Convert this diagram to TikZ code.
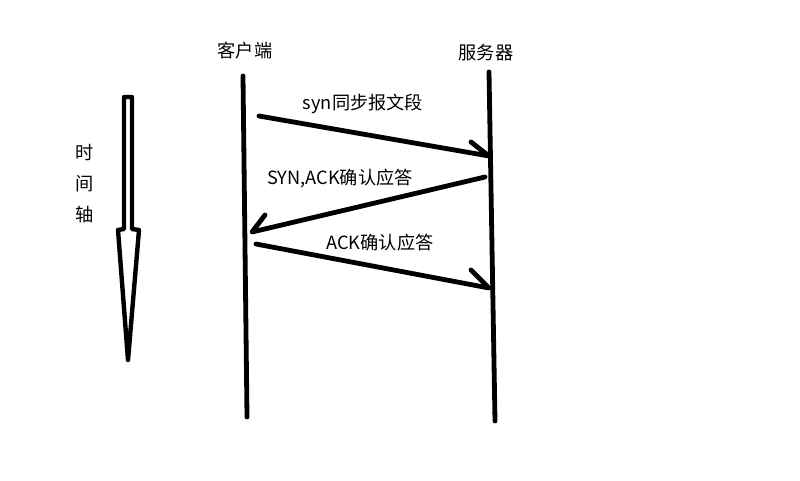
\documentclass[tikz,border=0pt]{standalone}
\usepackage{fontspec}
\newfontfamily\cjk{Noto Sans CJK SC}
\begin{document}
\begin{tikzpicture}[x=1pt,y=-1pt,
  lifeline/.style={line width=4.8pt,line cap=round},
  msg/.style={line width=4.8pt,line cap=round,line join=round},
  lbl/.style={font=\cjk\fontsize{18.2}{20}\selectfont,inner sep=0pt,anchor=center},
  timeaxis/.style={line width=4.4pt,line join=round,line cap=round}]
\useasboundingbox (0,0) rectangle (800,480);
% lifelines
\coordinate (c1) at (243,76);
\coordinate (c2) at (247,417);
\coordinate (s1) at (489,72);
\coordinate (s2) at (495,421);
\draw[lifeline] (c1) -- (c2);
\draw[lifeline] (s1) -- (s2);
\node[lbl] (client) at (245,51) {客户端};
\node[lbl] (server) at (486,53) {服务器};
% message 1
\coordinate (a1s) at (259,116);
\coordinate (a1t) at (489,156);
\coordinate (a1b) at (471,142);
\draw[msg] (a1s) -- (a1t) -- (a1b);
\node[lbl] (m1) at (363,104) {syn同步报文段};
% message 2
\coordinate (a2s) at (485,177);
\coordinate (a2t) at (252,232);
\coordinate (a2b) at (265,215);
\draw[msg] (a2s) -- (a2t) -- (a2b);
\node[lbl] (m2) at (340,179) {SYN,ACK确认应答};
% message 3
\coordinate (a3s) at (256,244);
\coordinate (a3t) at (489,288);
\coordinate (a3b) at (471,270);
\draw[msg] (a3s) -- (a3t) -- (a3b);
\node[lbl] (m3) at (380,243) {ACK确认应答};
% time axis
\draw[timeaxis] (124,97) -- (132,97) -- (132,229) -- (139,230) -- (128,360) -- (118,230) -- (124,229) -- cycle;
\node[lbl] (t1) at (85,153) {时};
\node[lbl] (t2) at (85,184) {间};
\node[lbl] (t3) at (85,215) {轴};
\end{tikzpicture}
\end{document}
